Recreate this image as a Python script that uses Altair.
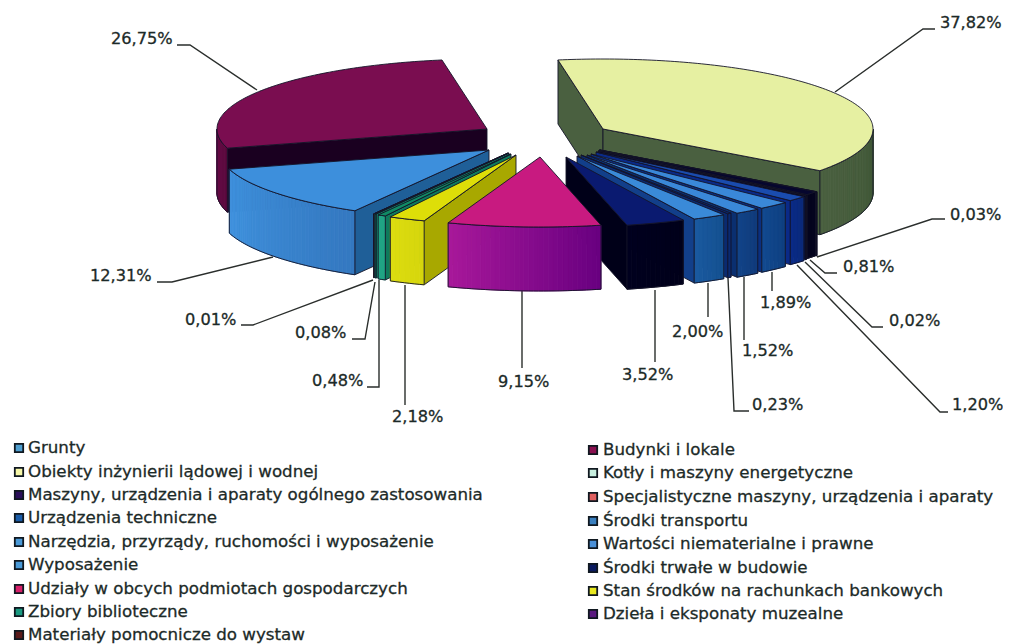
import math
import altair as alt
import pandas as pd

shares = [37.82, 0.03, 0.81, 0.02, 1.20, 1.89, 1.52, 0.23, 2.00, 3.52, 9.15, 2.18, 0.48, 0.08, 0.01, 12.31, 26.75]
# exploded apex of every slice, on the picture's own axes
apex_x = [603, 600, 599, 598, 596, 591, 587, 581, 577, 566, 540, 516, 511, 509, 508, 489, 487]
apex_y = [129, 150, 150, 151, 152, 154, 155, 155, 156, 157, 157, 155, 154, 153, 153, 150, 129]
top_col = ["#e6f0a2", "#101040", "#06062e", "#101040", "#1a4cae", "#3a88d8", "#3a88d8", "#0a2a78", "#3a8ad8", "#0a1a70",
           "#c81a80", "#dede08", "#108a64", "#0c5a50", "#5a1a1a", "#3d8fdc", "#7a0d50"]
wall_a = ["#4a6040", "#050520", "#04041e", "#050520", "#0a2a88", "#124a90", "#124488", "#0a2a70", "#1a5aa0", "#00001e",
          "#a8189a", "#dcdc10", "#20a888", "#107a60", "#401010", "#3f92de", "#6a0a48"]
wall_b = ["#3f5636", "#050520", "#04041e", "#050520", "#0a2a78", "#0f3f80", "#103a7a", "#0a2a70", "#14508f", "#00001a",
          "#680080", "#d6d60c", "#1fa080", "#107a60", "#401010", "#3478c0", "#5a0a3e"]
side_col = ["#4a6040", "#050520", "#04041e", "#050520", "#0a2a88", "#0a2f80", "#0a2f70", "#0a2a70", "#123f8a", "#000018",
            "#680080", "#a8a800", "#0e7a5c", "#107a60", "#401010", "#1f5f98", "#1a0020"]
draw_order = [0, 16, 15, 14, 13, 12, 11, 1, 2, 3, 4, 5, 6, 7, 8, 9, 10]
edge = "#141428"
RX, RY, DEPTH, START = 270, 70, 64, -9.6

pct_labels = ["37,82%", "0,03%", "0,81%", "0,02%", "1,20%", "1,89%", "1,52%", "0,23%", "2,00%", "3,52%", "9,15%",
              "2,18%", "0,48%", "0,08%", "0,01%", "12,31%", "26,75%"]
label_x = [940, 950, 843, 889, 952, 760, 742, 752, 672, 622, 498, 392, 312, 295, 185, 90, 111]
label_y = [23, 215, 267, 321, 405, 303, 351, 405, 332, 375, 382, 417, 381, 333, 320, 276, 39]
leader_x = [[935, 923, 835], [945, 932, 817], [837, 825, 810], [883, 872, 805], [948, 940, 797], [772, 772], [744, 744],
            [749, 734, 728], [708, 708], [655, 655], [522, 522], [405, 405], [367, 379, 379], [352, 365, 375],
            [241, 253, 373], [157, 172, 273], [177, 190, 257]]
leader_y = [[29, 29, 92], [219, 219, 257], [273, 273, 260], [327, 327, 262], [412, 412, 265], [291, 272], [340, 277],
            [411, 411, 278], [317, 283], [362, 290], [368, 291], [405, 285], [387, 387, 280], [339, 339, 282],
            [325, 325, 280], [282, 282, 257], [45, 45, 90]]

legend_left = ["Grunty", "Obiekty inżynierii lądowej i wodnej", "Maszyny, urządzenia i aparaty ogólnego zastosowania",
               "Urządzenia techniczne", "Narzędzia, przyrządy, ruchomości i wyposażenie", "Wyposażenie",
               "Udziały w obcych podmiotach gospodarczych", "Zbiory biblioteczne", "Materiały pomocnicze do wystaw"]
legend_left_col = ["#4f9fd0", "#f6f7a8", "#2a0f5a", "#1a5ca8", "#4a9ad8", "#4a9ad8", "#d8206a", "#1a9a80", "#5a1a1a"]
legend_right = ["Budynki i lokale", "Kotły i maszyny energetyczne", "Specjalistyczne maszyny, urządzenia i aparaty",
                "Środki transportu", "Wartości niematerialne i prawne", "Środki trwałe w budowie",
                "Stan środków na rachunkach bankowych", "Dzieła i eksponaty muzealne"]
legend_right_col = ["#8a1050", "#c8f0e0", "#e06060", "#3a80c0", "#4a90d8", "#0a1a60", "#e8e820", "#5a1a80"]
legend_left_y = [448, 472, 495, 518, 542, 565, 589, 612, 635]
legend_right_y = [450, 473, 497, 521, 544, 568, 591, 614]

# slice angles from the shares
bounds = [START]
for s in shares:
    bounds.append(bounds[-1] + s * 3.6)


def pt(i, t, drop=0):
    r = math.radians(t)
    return apex_x[i] + RX * math.sin(r), apex_y[i] - RY * math.cos(r) + drop


def mix(a, b, f):
    ca = [int(a[k:k + 2], 16) for k in (1, 3, 5)]
    cb = [int(b[k:k + 2], 16) for k in (1, 3, 5)]
    return "#%02x%02x%02x" % tuple(round(x + (y - x) * f) for x, y in zip(ca, cb))


rows = []


def poly(points, fill, stroke):
    pid = "p%d" % poly.n
    poly.n += 1
    closed = list(points) + [points[0]]
    for k, (x, y) in enumerate(closed):
        rows.append({"pid": pid, "i": k, "x": x, "y": y, "f": fill, "s": stroke})


poly.n = 1000

for i in draw_order:
    ts, te = bounds[i], bounds[i + 1]
    a0 = (apex_x[i], apex_y[i])
    a1 = (apex_x[i], apex_y[i] + DEPTH)
    # radial walls
    if math.sin(math.radians(ts)) < -1e-9:
        p, q = pt(i, ts), pt(i, ts, DEPTH)
        poly([a0, p, q, a1], side_col[i], edge)
    if math.sin(math.radians(te)) > 1e-9:
        p, q = pt(i, te), pt(i, te, DEPTH)
        poly([a0, p, q, a1], side_col[i], edge)
    # outer wall, front half only, shaded in strips
    a, b = max(ts, 90), min(te, 270)
    if b > a:
        n = max(1, int((b - a) / 1.0))
        for k in range(n):
            u, v = a + (b - a) * k / n, a + (b - a) * (k + 1) / n
            c = mix(wall_b[i], wall_a[i], (k + 0.5) / n)
            poly([pt(i, u), pt(i, v), pt(i, v, DEPTH), pt(i, u, DEPTH)], c, c)
        steps = max(2, int(b - a))
        arc = [a + (b - a) * k / steps for k in range(steps + 1)]
        poly([pt(i, t) for t in arc] + [pt(i, t, DEPTH) for t in reversed(arc)], "transparent", edge)
    # top face
    steps = max(2, int(te - ts))
    poly([a0] + [pt(i, ts + (te - ts) * k / steps) for k in range(steps + 1)], top_col[i], edge)

geo = pd.DataFrame(rows)

X = alt.Scale(domain=[8, 1003], nice=False, zero=False)
Y = alt.Scale(domain=[8, 644], nice=False, zero=False, reverse=True)
xe = alt.X("x:Q", scale=X, axis=None)
ye = alt.Y("y:Q", scale=Y, axis=None)

pie = alt.Chart(geo).mark_line(strokeWidth=0.9, strokeJoin="round", clip=False).encode(
    x=xe, y=ye, order=alt.Order("i:Q"), detail="pid:N",
    fill=alt.Fill("f:N", scale=None), stroke=alt.Stroke("s:N", scale=None))

lead_rows = []
for j, (xs, ys) in enumerate(zip(leader_x, leader_y)):
    for k, (x, y) in enumerate(zip(xs, ys)):
        lead_rows.append({"pid": "l%d" % j, "i": k, "x": x, "y": y})
leaders = alt.Chart(pd.DataFrame(lead_rows)).mark_line(color="#2a2e2c", strokeWidth=1.4).encode(
    x=xe, y=ye, order=alt.Order("i:Q"), detail="pid:N")

labels_df = pd.DataFrame({"x": label_x, "y": label_y, "t": pct_labels})
labels = alt.Chart(labels_df).mark_text(align="left", baseline="middle", font="DejaVu Sans", fontSize=16.2,
                                        color="#1c2a28", stroke="#1c2a28", strokeWidth=0.3).encode(x=xe, y=ye, text="t:N")

leg_df = pd.DataFrame({
    "t": legend_left + legend_right,
    "c": legend_left_col + legend_right_col,
    "y": legend_left_y + legend_right_y,
    "sx": [19] * 9 + [593] * 8,
    "x": [28] * 9 + [603] * 8,
})
swatches = alt.Chart(leg_df).mark_square(size=70, stroke="#101820", strokeWidth=1.8, opacity=1).encode(
    x=alt.X("sx:Q", scale=X, axis=None), y=ye, fill=alt.Fill("c:N", scale=None))
leg_text = alt.Chart(leg_df).mark_text(align="left", baseline="middle", font="DejaVu Sans", fontSize=16.7,
                                       color="#1c2a28", stroke="#1c2a28", strokeWidth=0.3).encode(x=xe, y=ye, text="t:N")

chart = alt.layer(leaders, pie, labels, swatches, leg_text).properties(
    width=995, height=636, padding=0, autosize=alt.AutoSizeParams(type="none"), background="white"
).configure_view(stroke=None)

chart.save("out.html", embed_options={"renderer": "svg", "actions": False})
